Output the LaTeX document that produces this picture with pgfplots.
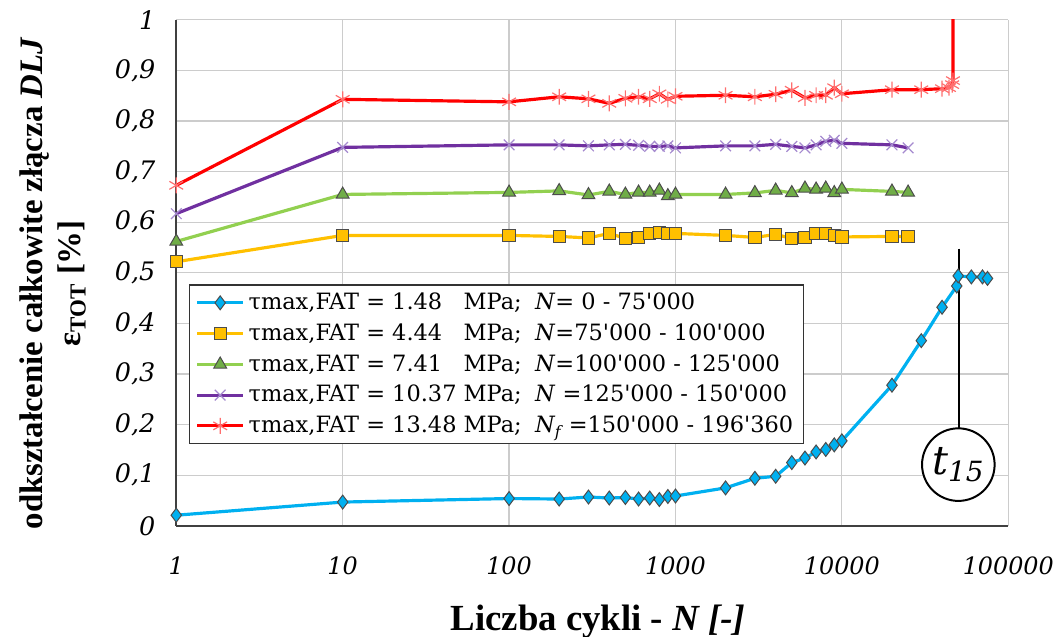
\documentclass[border=0pt]{standalone}
\usepackage{fontspec}
\setmainfont{DejaVu Serif}[Ligatures=TeXOff]
\newfontfamily\tnr{Liberation Serif}
\usepackage{pgfplots}
\pgfplotsset{compat=1.18}
\definecolor{cblue}{HTML}{00B0F0}
\definecolor{cyel}{HTML}{FFC000}
\definecolor{cgreen}{HTML}{92D050}
\definecolor{cgreenm}{HTML}{70AD47}
\definecolor{cpurp}{HTML}{7030A0}
\definecolor{cpurpm}{HTML}{A58ACF}
\definecolor{cred}{HTML}{FF0000}
\definecolor{credm}{HTML}{FF6E6E}
\newcommand\legfont{\fontsize{11.3bp}{13bp}\selectfont}
\newlength\lwa
\begin{document}
\settowidth\lwa{\legfont τmax,FAT = 10.37}
\begin{tikzpicture}
\useasboundingbox (-85.5bp,-55.5bp) rectangle (443.5bp,264.5bp);
\begin{axis}[
  at={(0,0)}, anchor=south west,
  scale only axis, width=418.5bp, height=254.5bp,
  xmode=log, log basis x=10,
  xmin=1, xmax=100000, ymin=0, ymax=1,
  xtick={1,10,100,1000,10000,100000},
  xticklabels={1,10,100,1000,10000,100000},
  ytick={0,0.1,0.2,0.3,0.4,0.5,0.6,0.7,0.8,0.9,1},
  /pgf/number format/assume math mode=true,
  xticklabel style={font=\fontsize{12bp}{14bp}\selectfont\itshape, yshift=-12bp},
  yticklabel style={font=\fontsize{12.8bp}{14bp}\selectfont\itshape, xshift=-7bp,
    /pgf/number format/use comma, /pgf/number format/fixed, /pgf/number format/precision=1},
  major tick length=0pt, minor tick length=0pt,
  grid=both,
  major grid style={draw=black!20, line width=0.6bp},
  minor grid style={draw=black!8, line width=0.6bp},
  axis lines*=left,
  axis line style={-, draw=black!75, line width=0.8bp},
  legend style={at={(0.0155,0.477)}, anchor=north west, draw=black!80, line width=0.6bp,
    fill=white, font=\legfont, inner xsep=3bp, inner ysep=2bp, row sep=1.6bp},
  legend cell align=left,
  legend image code/.code={\draw[mark repeat=2,mark phase=2] plot coordinates {(0bp,0bp) (11.5bp,0bp) (23bp,0bp)};},
]
% blue
\addplot[color=cblue, line width=1.6bp, mark=diamond*, mark size=3.5bp,
  mark options={fill=cblue, draw=black!70, line width=0.5bp}] coordinates {
(1,0.021)(10,0.047)(100,0.054)(200,0.053)(300,0.057)(400,0.055)(500,0.056)(600,0.053)(700,0.055)(800,0.052)(900,0.058)(1000,0.059)(2000,0.075)(3000,0.094)(4000,0.098)(5000,0.125)(6000,0.134)(7000,0.146)(8000,0.151)(9000,0.160)(10000,0.168)(20000,0.278)(30000,0.366)(40000,0.432)(49000,0.474)(50000,0.494)(60000,0.492)(70000,0.492)(75000,0.489)};
\addlegendentry{\makebox[\lwa][l]{τmax,FAT = 1.48} MPa;\; \textit{N}= 0 - 75'000}
% yellow
\addplot[color=cyel, line width=1.6bp, mark=square*, mark size=3.1bp,
  mark options={fill=cyel, draw=black!70, line width=0.5bp}] coordinates {
(1,0.522)(10,0.574)(100,0.574)(200,0.572)(300,0.569)(400,0.578)(500,0.568)(600,0.570)(700,0.578)(800,0.580)(900,0.578)(1000,0.578)(2000,0.574)(3000,0.570)(4000,0.576)(5000,0.568)(6000,0.570)(7000,0.578)(8000,0.578)(9000,0.574)(10000,0.571)(20000,0.572)(25000,0.572)};
\addlegendentry{\makebox[\lwa][l]{τmax,FAT = 4.44} MPa;\; \textit{N}=75'000 - 100'000}
% green
\addplot[color=cgreen, line width=1.6bp, mark=triangle*, mark size=3.7bp,
  mark options={fill=cgreenm, draw=black!70, line width=0.5bp}] coordinates {
(1,0.562)(10,0.655)(100,0.659)(200,0.662)(300,0.654)(400,0.661)(500,0.655)(600,0.659)(700,0.659)(800,0.663)(900,0.652)(1000,0.655)(2000,0.655)(3000,0.658)(4000,0.663)(5000,0.658)(6000,0.667)(7000,0.665)(8000,0.667)(9000,0.658)(10000,0.665)(20000,0.661)(25000,0.659)};
\addlegendentry{\makebox[\lwa][l]{τmax,FAT = 7.41} MPa;\; \textit{N}=100'000 - 125'000}
% purple
\addplot[color=cpurp, line width=1.6bp, mark=x, mark size=3.8bp,
  mark options={draw=cpurpm, line width=0.6bp}] coordinates {
(1,0.617)(10,0.748)(100,0.753)(200,0.753)(300,0.751)(400,0.753)(500,0.754)(600,0.752)(700,0.750)(800,0.750)(900,0.751)(1000,0.747)(2000,0.751)(3000,0.751)(4000,0.754)(5000,0.750)(6000,0.747)(7000,0.753)(8000,0.760)(9000,0.762)(10000,0.756)(20000,0.753)(25000,0.747)};
\addlegendentry{\makebox[\lwa][l]{τmax,FAT = 10.37} MPa;\; \textit{N} =125'000 - 150'000}
% red
\addplot[color=cred, line width=1.6bp, mark=asterisk, mark size=4bp,
  mark options={draw=credm, line width=0.6bp}] coordinates {
(1,0.673)(10,0.843)(100,0.838)(200,0.848)(300,0.844)(400,0.835)(500,0.845)(600,0.848)(700,0.844)(800,0.854)(900,0.843)(1000,0.849)(2000,0.851)(3000,0.848)(4000,0.853)(5000,0.861)(6000,0.846)(7000,0.851)(8000,0.851)(9000,0.866)(10000,0.854)(20000,0.862)(30000,0.862)(40000,0.864)(44000,0.866)(46000,0.872)(46500,0.880)(46600,1.2)};
\addlegendentry{\makebox[\lwa][l]{τmax,FAT = 13.48} MPa;\; \textit{N\textsubscript{f}} =150'000 - 196'360}
% t15 annotation
\draw[black, line width=1bp] (axis cs:50500,0.548) -- (axis cs:50500,0.193);
\draw[black, line width=1bp, fill=white] (axis cs:50100,0.121) circle[radius=18.25bp];
\node[font=\fontsize{20bp}{22bp}\selectfont] at (axis cs:50100,0.121) {\textit{t}\textsubscript{\textit{15}}};
\end{axis}
\node[rotate=90, align=center, font={\tnr\bfseries\fontsize{16.5bp}{19bp}\selectfont}] at (-62bp,122bp)
  {odkształcenie całkowite złącza \textit{DLJ}\\ ε\textsubscript{TOT} [\%]};
\node[font={\tnr\bfseries\fontsize{18.5bp}{20bp}\selectfont}] at (212bp,-48bp)
  {Liczba cykli - \textit{N [-]}};
\end{tikzpicture}
\end{document}
